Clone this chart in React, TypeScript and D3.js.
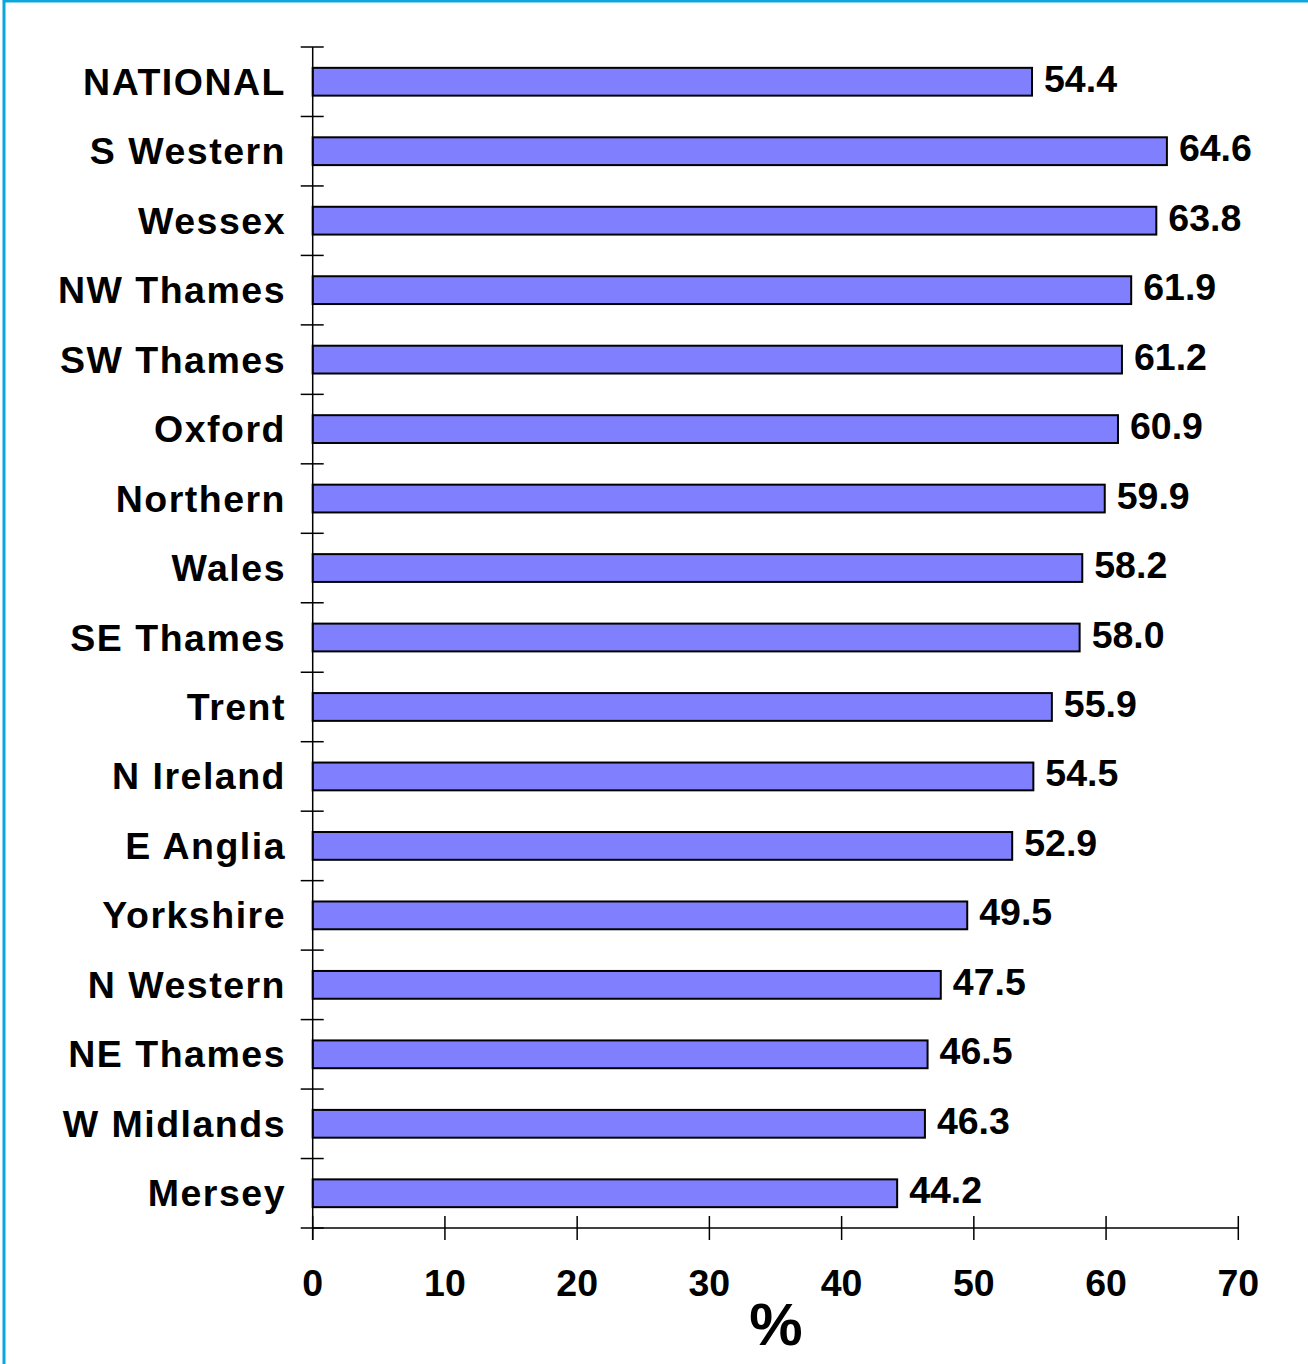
import React from "react";
import * as d3 from "d3";

const categories = [
  "NATIONAL", "S Western", "Wessex", "NW Thames", "SW Thames", "Oxford",
  "Northern", "Wales", "SE Thames", "Trent", "N Ireland", "E Anglia",
  "Yorkshire", "N Western", "NE Thames", "W Midlands", "Mersey",
];
const values = [
  54.4, 64.6, 63.8, 61.9, 61.2, 60.9, 59.9, 58.2, 58.0, 55.9, 54.5, 52.9,
  49.5, 47.5, 46.5, 46.3, 44.2,
];
const xTicks = [0, 10, 20, 30, 40, 50, 60, 70];
const axisTitle = "%";

const W = 1308;
const H = 1364;
const left = 312.7;
const right = 1238.3;
const top = 47;
const bottom = 1228;
const font = "'Liberation Sans', Arial, sans-serif";

export default function App() {
  const x = d3.scaleLinear().domain([0, 70]).range([left, right]);
  const y = d3.scaleBand<string>().domain(categories).range([top, bottom]).paddingInner(0.6).paddingOuter(0.3);
  const step = y.step();
  const boundaries = d3.range(categories.length + 1).map((i) => top + i * step);

  return (
    <svg width={W} height={H} style={{ position: "absolute", left: 0, top: 0 }} fontFamily={font}>
      <rect x={0} y={0} width={W} height={H} fill="#ffffff" />
      <rect x={4} y={1} width={W + 20} height={H + 20} fill="none" stroke="#0aa6dc" strokeWidth={3} />
      {categories.map((c, i) => (
        <g key={c}>
          <rect
            x={x(0)}
            y={y(c)!}
            width={x(values[i]) - x(0)}
            height={y.bandwidth()}
            fill="#8080ff"
            stroke="#000"
            strokeWidth={2}
          />
          <text
            x={x(values[i]) + 12}
            y={y(c)! + y.bandwidth() / 2 + 10}
            fontSize={37.5}
            fontWeight="bold"
            fill="#000"
          >
            {values[i].toFixed(1)}
          </text>
          <text
            x={286}
            y={y(c)! + y.bandwidth() / 2 + 13}
            fontSize={37.5}
            fontWeight="bold"
            textAnchor="end"
            letterSpacing={1.5}
            fill="#000"
          >
            {c}
          </text>
        </g>
      ))}
      <line x1={left} x2={left} y1={top} y2={bottom + 12} stroke="#000" strokeWidth={1.5} />
      {boundaries.map((b, i) => (
        <line key={i} x1={left - 12} x2={left + 11} y1={b} y2={b} stroke="#000" strokeWidth={1.5} />
      ))}
      <line x1={left} x2={right} y1={bottom} y2={bottom} stroke="#000" strokeWidth={1.5} />
      {xTicks.map((t) => (
        <g key={t}>
          <line x1={x(t)} x2={x(t)} y1={bottom - 12} y2={bottom + 12} stroke="#000" strokeWidth={1.5} />
          <text x={x(t)} y={1296} fontSize={37.5} fontWeight="bold" textAnchor="middle" fill="#000">
            {t}
          </text>
        </g>
      ))}
      <text x={776} y={1345} fontSize={60} fontWeight="bold" textAnchor="middle" fill="#000">
        {axisTitle}
      </text>
    </svg>
  );
}
